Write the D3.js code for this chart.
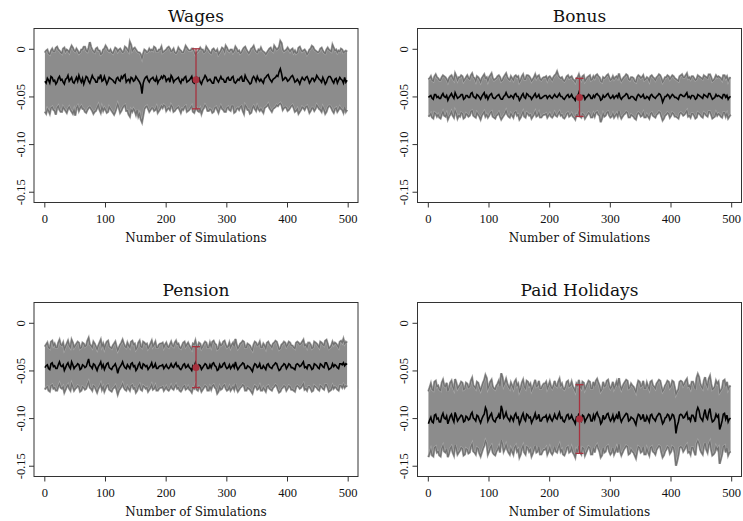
<!DOCTYPE html>
<html>
<head>
<meta charset="utf-8">
<script src="https://cdn.jsdelivr.net/npm/d3@7"></script>
<style>
  body { margin: 0; background: #fff; }
  svg { display: block; }
</style>
</head>
<body>
<svg id="chart" width="743" height="521"></svg>
<script>
// simulation estimates, in thousandths (-33 = -0.033), one value every 2 simulations
const sims = d3.range(1, 501, 2);

const wagesMean = [
  -34,-36,-31,-33,-36,-29,-30,-34,-33,-37,-35,-31,-29,-33,-32,-35,-37,-32,-31,-28,-34,-32,-30,-35,-36,
  -33,-30,-34,-28,-32,-35,-31,-37,-33,-29,-30,-34,-36,-32,-28,-31,-32,-35,-35,-30,-31,-27,-34,-33,-29,
  -33,-37,-34,-30,-31,-32,-33,-35,-36,-31,-30,-33,-34,-29,-31,-28,-27,-35,-33,-32,-35,-30,-31,-34,-33,
  -29,-31,-33,-35,-38,-47,-36,-32,-30,-29,-33,-35,-32,-31,-30,-33,-34,-30,-36,-33,-32,-29,-31,-28,-29,
  -34,-32,-31,-35,-28,-30,-35,-33,-32,-31,-30,-34,-36,-32,-33,-30,-29,-35,-34,-33,-31,-29,-35,-36,-32,
  -30,-33,-31,-35,-37,-33,-31,-28,-30,-34,-33,-32,-34,-36,-36,-30,-30,-33,-35,-32,-29,-32,-32,-35,-35,
  -31,-30,-33,-33,-30,-29,-35,-36,-34,-32,-33,-30,-29,-34,-34,-28,-31,-33,-35,-37,-36,-31,-29,-31,-34,
  -29,-32,-34,-32,-34,-36,-31,-30,-28,-27,-31,-33,-35,-32,-31,-30,-28,-29,-24,-21,-26,-33,-32,-30,-31,
  -34,-33,-31,-29,-28,-31,-35,-34,-32,-34,-37,-33,-30,-32,-33,-30,-29,-32,-36,-34,-31,-31,-34,-32,-28,
  -30,-32,-33,-35,-30,-33,-37,-35,-31,-29,-29,-31,-34,-36,-32,-31,-36,-33,-30,-32,-33,-36,-30,-35,-33];
const wagesHi = [
  -4,-2,-1,-5,-6,-2,0,-3,-3,1,2,-1,-2,-4,-5,0,1,-3,-1,-2,-4,0,3,1,-2,
  -3,0,-2,-5,-4,-1,-1,2,2,-2,-3,1,7,2,-1,-3,-4,0,1,-2,-2,-6,-5,-1,0,
  3,1,-2,-3,-1,-4,-5,-2,1,0,-3,-1,0,-2,-4,-3,2,1,-1,-3,7,4,-2,0,1,
  -1,-3,-4,-4,-6,-10,-5,-1,-2,-4,-3,0,-2,-1,-2,2,1,-3,-3,-1,-1,2,-4,-3,-2,
  -1,1,2,0,-3,-2,0,-4,-5,-3,1,-1,-2,-4,-4,-1,3,1,-1,-2,-2,0,0,-3,-6,
  -4,-3,-1,1,-1,-1,-4,-3,2,0,-2,-4,-5,-1,0,-2,-3,-1,-6,-4,-2,1,0,-3,3,
  1,-2,-3,-1,-1,-4,-2,2,0,-3,-2,-5,-4,-1,1,2,-1,-3,-5,-3,0,1,3,-1,-3,
  -4,-1,-2,1,-2,-3,-4,-6,-4,-2,0,1,-2,-3,3,1,-1,0,2,8,6,-1,-3,-2,-1,
  1,-1,-3,-1,0,-4,-2,-5,-4,1,2,-1,-3,-2,-1,-3,-6,-4,-1,0,3,2,-1,-2,-3,
  -4,-3,0,1,-2,-4,-5,-1,1,-1,-2,-3,4,1,-2,-1,-4,-2,-3,0,-1,-4,-3,-2,-3];
const wagesLo = [
  -66,-68,-63,-65,-68,-62,-61,-64,-65,-69,-62,-60,-64,-66,-66,-61,-63,-65,-67,-63,-61,-64,-66,-68,-64,
  -70,-62,-60,-65,-62,-60,-63,-63,-66,-67,-64,-62,-61,-63,-65,-68,-66,-65,-62,-59,-64,-67,-61,-65,-62,
  -64,-67,-66,-61,-63,-65,-67,-69,-66,-62,-58,-62,-67,-65,-62,-60,-59,-65,-65,-69,-71,-64,-66,-63,-65,
  -69,-64,-71,-68,-74,-77,-70,-63,-61,-60,-63,-66,-64,-62,-62,-65,-64,-61,-67,-65,-63,-60,-62,-59,-60,
  -65,-63,-62,-64,-59,-61,-66,-65,-63,-62,-61,-64,-67,-63,-64,-61,-60,-66,-65,-64,-62,-60,-66,-67,-63,
  -62,-65,-66,-63,-68,-64,-62,-59,-61,-65,-65,-63,-64,-67,-66,-62,-61,-64,-67,-63,-60,-63,-64,-66,-66,
  -62,-61,-64,-65,-60,-60,-67,-66,-63,-62,-64,-61,-60,-65,-68,-59,-61,-64,-64,-68,-67,-62,-60,-63,-65,
  -60,-63,-65,-63,-65,-67,-62,-61,-60,-58,-62,-64,-66,-63,-62,-61,-59,-60,-58,-57,-59,-64,-62,-61,-62,
  -65,-64,-62,-60,-59,-62,-66,-65,-63,-68,-66,-64,-61,-62,-64,-61,-60,-63,-67,-65,-62,-62,-65,-63,-59,
  -61,-63,-64,-66,-61,-64,-68,-66,-62,-60,-60,-62,-65,-67,-63,-62,-66,-64,-61,-63,-64,-67,-61,-66,-64];

const bonusMean = [
  -51,-50,-49,-52,-53,-48,-48,-51,-50,-52,-52,-49,-47,-50,-51,-49,-54,-51,-49,-47,-50,-52,-46,-49,-52,
  -51,-50,-48,-48,-53,-52,-49,-49,-51,-51,-47,-46,-50,-51,-52,-48,-49,-51,-53,-50,-48,-46,-51,-49,-53,
  -50,-48,-47,-51,-52,-52,-50,-49,-48,-51,-53,-53,-50,-49,-46,-49,-51,-51,-49,-50,-52,-48,-47,-50,-50,
  -54,-52,-49,-47,-51,-52,-47,-48,-50,-50,-53,-51,-49,-47,-51,-50,-48,-52,-52,-51,-50,-49,-49,-52,-50,
  -49,-51,-52,-50,-48,-50,-51,-49,-47,-50,-50,-52,-53,-51,-49,-48,-51,-50,-48,-51,-52,-54,-50,-50,-46,
  -51,-52,-49,-49,-53,-51,-50,-48,-49,-52,-52,-49,-51,-48,-47,-49,-50,-54,-53,-49,-51,-50,-48,-47,-50,
  -52,-51,-49,-52,-50,-49,-51,-46,-51,-53,-51,-50,-49,-47,-48,-52,-52,-50,-50,-51,-53,-54,-50,-48,-49,
  -51,-50,-48,-52,-52,-50,-51,-53,-49,-48,-50,-51,-52,-50,-49,-47,-48,-51,-56,-53,-50,-50,-48,-49,-52,
  -50,-48,-49,-51,-51,-52,-53,-49,-48,-49,-50,-50,-48,-46,-51,-50,-52,-49,-49,-50,-53,-52,-48,-49,-50,
  -51,-52,-48,-49,-50,-51,-47,-47,-50,-53,-52,-51,-48,-50,-49,-50,-51,-52,-48,-48,-51,-49,-53,-51,-50];
const bonusHi = [
  -32,-31,-29,-33,-34,-29,-27,-30,-31,-33,-33,-30,-28,-29,-30,-32,-35,-31,-29,-28,-31,-33,-26,-29,-33,
  -30,-30,-28,-29,-34,-32,-30,-28,-31,-32,-28,-26,-30,-31,-34,-29,-30,-32,-35,-31,-29,-27,-31,-30,-34,
  -30,-28,-26,-31,-33,-32,-31,-29,-28,-30,-34,-33,-30,-28,-26,-30,-32,-33,-29,-31,-33,-29,-28,-30,-29,
  -35,-33,-29,-27,-32,-32,-28,-28,-29,-31,-34,-32,-30,-27,-31,-29,-28,-32,-33,-31,-30,-30,-29,-33,-30,
  -29,-31,-33,-30,-28,-27,-24,-28,-30,-31,-30,-33,-34,-32,-29,-28,-31,-30,-29,-32,-33,-35,-31,-30,-27,
  -31,-33,-29,-28,-34,-32,-30,-29,-28,-33,-32,-29,-31,-28,-27,-29,-30,-34,-35,-30,-31,-30,-28,-27,-30,
  -33,-32,-29,-32,-30,-29,-31,-26,-31,-34,-32,-30,-29,-27,-28,-32,-33,-30,-30,-31,-34,-35,-30,-28,-29,
  -31,-30,-28,-33,-32,-30,-31,-34,-29,-28,-30,-31,-33,-30,-29,-27,-28,-31,-35,-33,-30,-30,-28,-29,-32,
  -30,-28,-29,-31,-32,-33,-34,-29,-28,-27,-30,-30,-28,-26,-31,-30,-32,-29,-29,-31,-33,-32,-28,-29,-30,
  -31,-32,-28,-29,-30,-31,-27,-27,-30,-34,-33,-31,-28,-30,-29,-30,-31,-33,-28,-28,-31,-29,-34,-31,-30];
const bonusLo = [
  -71,-70,-68,-72,-73,-67,-68,-71,-69,-72,-73,-69,-66,-70,-71,-68,-74,-71,-69,-66,-70,-72,-65,-68,-73,
  -70,-71,-67,-68,-73,-72,-68,-69,-71,-70,-66,-65,-70,-71,-72,-67,-69,-71,-74,-70,-68,-66,-71,-69,-72,
  -70,-67,-66,-71,-72,-73,-70,-69,-67,-71,-74,-72,-70,-68,-65,-69,-71,-72,-68,-70,-72,-67,-66,-70,-69,
  -74,-72,-69,-66,-71,-72,-67,-68,-70,-69,-73,-71,-69,-66,-71,-70,-67,-72,-72,-70,-69,-69,-68,-72,-70,
  -68,-71,-72,-70,-67,-70,-71,-68,-66,-70,-69,-72,-73,-71,-68,-67,-71,-70,-68,-71,-72,-74,-69,-70,-66,
  -71,-72,-68,-69,-73,-71,-69,-67,-68,-72,-72,-68,-71,-67,-66,-69,-70,-77,-73,-68,-71,-70,-67,-66,-70,
  -72,-71,-68,-72,-70,-68,-71,-65,-70,-73,-71,-69,-68,-66,-67,-72,-72,-69,-70,-71,-73,-74,-69,-67,-68,
  -71,-70,-67,-72,-72,-69,-71,-73,-68,-67,-70,-71,-72,-69,-68,-66,-67,-71,-75,-73,-70,-69,-67,-68,-72,
  -70,-67,-68,-71,-71,-72,-73,-68,-67,-68,-70,-69,-67,-65,-71,-70,-72,-68,-68,-70,-73,-72,-67,-68,-69,
  -71,-72,-67,-68,-70,-71,-66,-66,-69,-73,-72,-71,-67,-70,-68,-69,-71,-72,-67,-67,-71,-68,-73,-71,-69];

const pensionMean = [
  -47,-45,-44,-48,-49,-43,-42,-46,-45,-48,-48,-44,-41,-45,-46,-44,-50,-47,-44,-42,-46,-48,-41,-44,-48,
  -46,-45,-43,-44,-49,-48,-44,-45,-47,-46,-42,-38,-45,-46,-48,-43,-44,-47,-50,-46,-44,-41,-47,-44,-49,
  -46,-43,-42,-47,-48,-49,-46,-45,-43,-47,-53,-48,-46,-44,-41,-45,-47,-48,-44,-46,-48,-43,-42,-46,-45,
  -50,-48,-44,-42,-47,-48,-43,-44,-46,-45,-49,-47,-45,-42,-47,-46,-43,-48,-48,-46,-45,-45,-44,-48,-46,
  -44,-47,-48,-46,-43,-46,-47,-44,-42,-46,-45,-48,-49,-47,-44,-43,-47,-46,-44,-47,-48,-50,-45,-46,-42,
  -47,-48,-44,-45,-49,-47,-45,-43,-44,-48,-48,-44,-47,-43,-42,-45,-46,-50,-49,-44,-47,-46,-43,-42,-46,
  -48,-47,-44,-48,-46,-44,-47,-41,-46,-49,-47,-45,-44,-42,-43,-48,-48,-45,-46,-47,-49,-51,-46,-43,-44,
  -47,-46,-43,-48,-48,-45,-47,-49,-44,-43,-46,-47,-48,-45,-44,-42,-43,-47,-50,-49,-46,-45,-43,-44,-48,
  -46,-43,-44,-47,-47,-48,-49,-44,-43,-44,-46,-45,-43,-41,-47,-46,-48,-44,-44,-46,-49,-48,-43,-44,-45,
  -47,-48,-43,-44,-46,-47,-42,-42,-45,-49,-48,-47,-43,-46,-44,-45,-47,-48,-43,-43,-44,-42,-45,-43,-44];
const pensionHi = [
  -25,-23,-21,-26,-27,-20,-19,-24,-22,-26,-26,-21,-18,-23,-24,-21,-28,-25,-22,-19,-24,-26,-18,-21,-26,
  -24,-22,-20,-21,-27,-26,-21,-22,-25,-24,-19,-16,-23,-24,-26,-20,-22,-25,-28,-24,-21,-18,-25,-22,-27,
  -23,-20,-19,-25,-26,-27,-24,-22,-20,-25,-29,-26,-23,-21,-18,-22,-25,-26,-21,-24,-26,-20,-19,-23,-22,
  -28,-26,-21,-19,-25,-26,-20,-21,-23,-22,-27,-25,-22,-19,-25,-23,-20,-26,-26,-23,-22,-22,-21,-26,-23,
  -21,-25,-26,-23,-20,-24,-25,-21,-19,-23,-22,-26,-27,-24,-21,-20,-25,-23,-21,-24,-26,-28,-22,-23,-19,
  -25,-26,-21,-22,-27,-25,-22,-20,-21,-26,-26,-21,-25,-20,-19,-22,-23,-28,-27,-21,-24,-23,-20,-19,-23,
  -26,-25,-21,-26,-23,-21,-25,-17,-23,-27,-25,-22,-21,-19,-20,-26,-26,-22,-23,-24,-27,-29,-23,-20,-21,
  -24,-23,-20,-26,-26,-22,-24,-27,-21,-20,-23,-24,-26,-22,-21,-19,-20,-24,-28,-27,-23,-22,-20,-21,-25,
  -23,-20,-21,-24,-24,-26,-27,-21,-20,-21,-23,-22,-20,-18,-24,-23,-26,-21,-21,-23,-27,-26,-20,-21,-22,
  -24,-26,-20,-21,-23,-24,-19,-18,-22,-27,-26,-24,-20,-23,-21,-22,-24,-26,-20,-19,-21,-17,-22,-20,-21];
const pensionLo = [
  -70,-68,-67,-71,-72,-66,-65,-69,-68,-71,-71,-67,-64,-68,-69,-67,-73,-70,-67,-65,-69,-71,-64,-67,-71,
  -69,-68,-66,-67,-72,-71,-67,-68,-70,-69,-65,-62,-68,-69,-71,-66,-67,-70,-73,-69,-67,-64,-70,-67,-72,
  -69,-66,-65,-70,-71,-72,-69,-68,-66,-70,-75,-71,-69,-67,-64,-68,-70,-71,-67,-69,-71,-66,-65,-69,-68,
  -73,-71,-67,-65,-70,-71,-66,-67,-69,-68,-72,-70,-68,-65,-70,-69,-66,-71,-71,-69,-68,-68,-67,-71,-69,
  -67,-70,-71,-69,-66,-69,-70,-67,-65,-69,-68,-71,-72,-70,-67,-66,-70,-69,-67,-70,-71,-73,-68,-69,-65,
  -70,-71,-67,-68,-72,-70,-68,-66,-67,-71,-71,-67,-70,-66,-65,-68,-69,-74,-72,-67,-70,-69,-66,-65,-69,
  -71,-70,-67,-71,-69,-67,-70,-64,-69,-72,-70,-68,-67,-65,-66,-71,-71,-68,-69,-70,-72,-74,-69,-66,-67,
  -70,-69,-66,-71,-71,-68,-70,-72,-67,-66,-69,-70,-71,-68,-67,-65,-66,-70,-73,-72,-69,-68,-66,-67,-71,
  -69,-66,-67,-70,-70,-71,-72,-67,-66,-67,-69,-68,-66,-64,-70,-69,-71,-67,-67,-69,-72,-71,-66,-67,-68,
  -70,-71,-66,-67,-69,-70,-65,-65,-68,-72,-71,-70,-66,-69,-67,-68,-70,-71,-66,-66,-68,-65,-68,-66,-67];

const holidaysMean = [
  -106,-102,-99,-104,-105,-97,-96,-101,-100,-104,-104,-98,-95,-100,-101,-98,-106,-102,-98,-96,-101,-104,-94,-98,-103,
  -101,-99,-97,-98,-104,-103,-98,-99,-102,-101,-96,-94,-100,-101,-103,-97,-98,-102,-105,-101,-98,-96,-89,-92,-103,
  -100,-97,-95,-101,-103,-104,-100,-99,-96,-101,-87,-92,-100,-98,-94,-99,-101,-103,-98,-100,-103,-97,-95,-100,-99,
  -106,-103,-98,-95,-101,-103,-96,-97,-100,-99,-105,-102,-99,-95,-101,-100,-96,-103,-103,-100,-99,-99,-97,-103,-100,
  -97,-101,-103,-100,-96,-100,-101,-97,-94,-100,-99,-103,-104,-101,-97,-96,-101,-100,-97,-101,-103,-106,-99,-100,-95,
  -101,-103,-97,-98,-104,-101,-99,-96,-97,-103,-103,-97,-101,-96,-94,-98,-100,-106,-104,-97,-101,-100,-96,-95,-100,
  -103,-101,-97,-103,-100,-97,-101,-93,-100,-104,-101,-99,-97,-95,-96,-103,-102,-99,-100,-101,-104,-107,-100,-96,-97,
  -101,-100,-96,-103,-103,-98,-101,-104,-97,-96,-100,-101,-103,-99,-97,-95,-96,-101,-106,-104,-100,-99,-96,-97,-102,
  -100,-96,-97,-102,-116,-108,-104,-97,-96,-97,-100,-99,-96,-94,-101,-100,-103,-97,-97,-100,-104,-93,-89,-92,-99,
  -101,-103,-96,-91,-99,-101,-94,-90,-99,-104,-103,-101,-96,-99,-97,-112,-108,-103,-96,-95,-101,-97,-104,-101,-100];
const holidaysHi = [
  -72,-68,-64,-70,-71,-62,-61,-67,-66,-70,-71,-63,-60,-66,-67,-63,-72,-68,-63,-61,-67,-70,-59,-63,-69,
  -67,-65,-62,-63,-70,-69,-63,-64,-68,-67,-61,-58,-66,-67,-69,-62,-63,-68,-71,-67,-63,-60,-55,-58,-69,
  -66,-62,-60,-67,-69,-70,-66,-64,-61,-67,-53,-57,-66,-63,-59,-64,-67,-69,-63,-66,-69,-62,-60,-66,-64,
  -72,-69,-63,-60,-67,-69,-61,-62,-66,-64,-71,-68,-64,-60,-67,-66,-61,-69,-69,-66,-64,-64,-62,-69,-66,
  -62,-67,-69,-66,-61,-66,-67,-62,-59,-66,-64,-69,-70,-67,-62,-61,-67,-66,-62,-67,-69,-72,-64,-66,-60,
  -67,-69,-62,-63,-70,-67,-64,-61,-62,-69,-69,-62,-67,-61,-59,-63,-66,-72,-70,-62,-67,-66,-61,-60,-66,
  -69,-67,-62,-69,-66,-62,-67,-58,-66,-70,-67,-64,-62,-60,-61,-69,-68,-64,-66,-67,-70,-73,-66,-61,-62,
  -67,-66,-61,-69,-69,-63,-67,-70,-62,-61,-66,-67,-69,-64,-62,-60,-61,-67,-72,-70,-66,-64,-61,-62,-68,
  -66,-61,-62,-68,-75,-72,-70,-62,-61,-62,-66,-64,-61,-59,-67,-66,-69,-62,-62,-66,-70,-58,-54,-57,-64,
  -67,-69,-61,-57,-64,-67,-59,-56,-64,-70,-69,-67,-61,-64,-62,-73,-71,-69,-61,-60,-67,-62,-70,-67,-66];
const holidaysLo = [
  -141,-137,-133,-139,-140,-131,-130,-136,-135,-139,-140,-132,-129,-135,-136,-132,-141,-137,-132,-130,-136,-139,-128,-132,-138,
  -136,-134,-131,-132,-139,-138,-132,-133,-137,-136,-130,-127,-135,-136,-138,-131,-132,-137,-140,-136,-132,-129,-124,-127,-138,
  -135,-131,-129,-136,-138,-139,-135,-133,-130,-136,-123,-127,-135,-132,-128,-133,-136,-138,-132,-135,-138,-131,-129,-135,-133,
  -141,-138,-132,-129,-136,-138,-130,-131,-135,-133,-140,-137,-133,-129,-136,-135,-130,-138,-138,-135,-133,-133,-131,-138,-135,
  -131,-136,-138,-135,-130,-135,-136,-131,-128,-135,-133,-138,-139,-136,-131,-130,-136,-135,-131,-136,-138,-141,-133,-135,-129,
  -136,-138,-131,-132,-139,-136,-133,-130,-131,-138,-138,-131,-136,-130,-128,-132,-135,-141,-139,-131,-136,-135,-130,-129,-135,
  -138,-136,-131,-138,-135,-131,-136,-127,-135,-139,-136,-133,-131,-129,-130,-138,-137,-133,-135,-136,-139,-142,-135,-130,-131,
  -136,-135,-130,-138,-138,-132,-136,-139,-131,-130,-135,-136,-138,-133,-131,-129,-130,-136,-141,-139,-135,-133,-130,-131,-137,
  -135,-130,-131,-137,-150,-145,-139,-131,-130,-131,-135,-133,-130,-128,-136,-135,-138,-131,-131,-135,-139,-127,-124,-127,-133,
  -136,-138,-130,-126,-133,-136,-128,-125,-133,-139,-138,-136,-130,-133,-131,-148,-143,-138,-130,-129,-136,-131,-139,-136,-135];

// actual estimate with its 95% interval, drawn at simulation 250
const titles = ["Wages", "Bonus", "Pension", "Paid Holidays"];
const estimates = [-0.0325, -0.051, -0.047, -0.101];
const estLo = [-0.063, -0.071, -0.068, -0.137];
const estHi = [0.000, -0.031, -0.025, -0.065];
const estAt = 250;

const xTicks = [0, 100, 200, 300, 400, 500];
const yTicks = [0, -0.05, -0.10, -0.15];
const yTickLabels = ["0", "-0.05", "-0.10", "-0.15"];

const series = [
  { mean: wagesMean, lo: wagesLo, hi: wagesHi },
  { mean: bonusMean, lo: bonusLo, hi: bonusHi },
  { mean: pensionMean, lo: pensionLo, hi: pensionHi },
  { mean: holidaysMean, lo: holidaysLo, hi: holidaysHi }
];

const svg = d3.select("#chart");
const boxW = 324, boxH = 174;
const origins = [[34, 28.5], [417.5, 28.5], [34, 302.5], [417.5, 302.5]];
const serif = "'DejaVu Serif', serif";
const numFont = "'Liberation Serif', serif";
const red = "#a8323f";

titles.forEach((title, i) => {
  const [ox, oy] = origins[i];
  const g = svg.append("g").attr("transform", `translate(${ox},${oy})`);

  const x = d3.scaleLinear().domain([-17, 517]).range([0, boxW]);
  const y = d3.scaleLinear().domain([-0.1613, 0.0213]).range([boxH, 0]);

  const s = series[i];
  const n = Math.min(sims.length, s.mean.length, s.lo.length, s.hi.length);
  const pts = sims.slice(0, n).map((sim, j) => ({
    sim: sim, mean: s.mean[j] / 1000, lo: s.lo[j] / 1000, hi: s.hi[j] / 1000
  }));

  g.append("path")
   .datum(pts)
   .attr("d", d3.area().x(d => x(d.sim)).y0(d => y(d.lo)).y1(d => y(d.hi)))
   .attr("fill", "#8c8c8c");

  // band edges: light fringe under a mid-grey line
  ["hi", "lo"].forEach(k => {
    const edge = d3.line().x(d => x(d.sim)).y(d => y(d[k]));
    g.append("path")
     .datum(pts)
     .attr("d", edge)
     .attr("fill", "none")
     .attr("stroke", "#a9a9a9")
     .attr("stroke-width", 2.4);
    g.append("path")
     .datum(pts)
     .attr("d", edge)
     .attr("fill", "none")
     .attr("stroke", "#727272")
     .attr("stroke-width", 1.3);
  });

  g.append("path")
   .datum(pts)
   .attr("d", d3.line().x(d => x(d.sim)).y(d => y(d.mean)))
   .attr("fill", "none")
   .attr("stroke", "#000")
   .attr("stroke-width", 1.6);

  // actual estimate
  const ex = x(estAt);
  g.append("line")
   .attr("x1", ex).attr("x2", ex)
   .attr("y1", y(estHi[i])).attr("y2", y(estLo[i]))
   .attr("stroke", red).attr("stroke-width", 1.3);
  [estHi[i], estLo[i]].forEach(v => {
    g.append("line")
     .attr("x1", ex - 4).attr("x2", ex + 4)
     .attr("y1", y(v)).attr("y2", y(v))
     .attr("stroke", red).attr("stroke-width", 1.3);
  });
  g.append("circle")
   .attr("cx", ex).attr("cy", y(estimates[i]))
   .attr("r", 3.5).attr("fill", red);

  // frame
  g.append("rect")
   .attr("width", boxW).attr("height", boxH)
   .attr("fill", "none").attr("stroke", "#333").attr("stroke-width", 1);

  const xAxis = g.append("g")
   .attr("transform", `translate(0,${boxH})`)
   .call(d3.axisBottom(x).tickValues(xTicks).tickSize(5).tickPadding(7).tickFormat(d3.format("d")));
  xAxis.select(".domain").remove();
  xAxis.selectAll("line").attr("stroke", "#333");
  xAxis.selectAll("text")
   .attr("font-family", numFont).attr("font-size", "12.5px").attr("fill", "#111");

  const yAxis = g.append("g")
   .call(d3.axisLeft(y).tickValues(yTicks).tickSize(5).tickFormat((d, k) => yTickLabels[k]));
  yAxis.select(".domain").remove();
  yAxis.selectAll("line").attr("stroke", "#333");
  yAxis.selectAll("text")
   .attr("transform", "rotate(-90)")
   .attr("x", 0).attr("y", -9.5).attr("dy", 0)
   .attr("text-anchor", "middle")
   .attr("font-family", numFont).attr("font-size", "12.5px").attr("fill", "#111");

  g.append("text")
   .attr("x", x(250)).attr("y", -7)
   .attr("text-anchor", "middle")
   .attr("font-family", serif).attr("font-size", "17px").attr("fill", "#111")
   .text(title);

  g.append("text")
   .attr("x", x(250)).attr("y", boxH + 39)
   .attr("text-anchor", "middle")
   .attr("font-family", serif).attr("font-size", "12px").attr("fill", "#111")
   .text("Number of Simulations");
});
</script>
</body>
</html>
